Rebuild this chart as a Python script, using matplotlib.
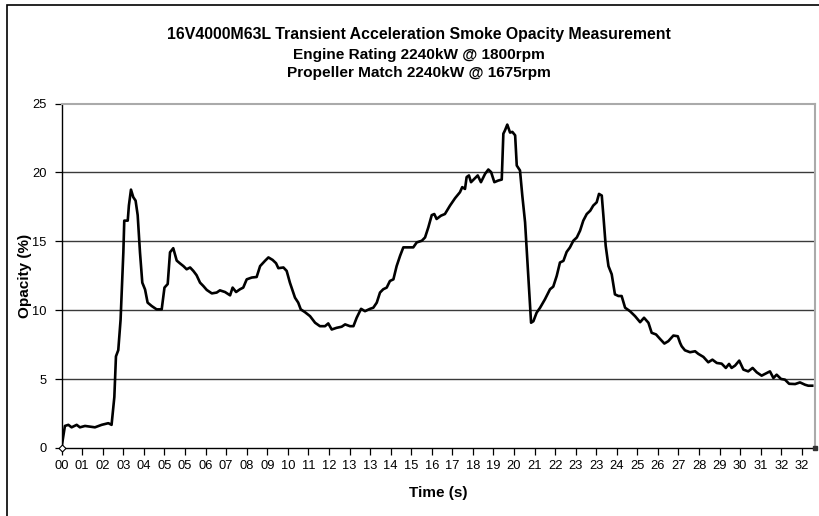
import matplotlib
matplotlib.use("Agg")
import matplotlib.pyplot as plt
from matplotlib.patches import Rectangle

plt.rcParams['font.family'] = ['Liberation Sans', 'DejaVu Sans']

title_lines = ["16V4000M63L Transient Acceleration Smoke Opacity Measurement",
               "Engine Rating 2240kW @ 1800rpm",
               "Propeller Match 2240kW @ 1675rpm"]
x_label = "Time (s)"
y_label = "Opacity (%)"

time_s = [0.00, 0.14, 0.29, 0.43, 0.65, 0.79, 1.01, 1.44, 1.73, 2.02, 2.16, 2.28, 2.35, 2.45,
          2.55, 2.67, 2.71, 2.86, 2.91, 3.00, 3.10, 3.20, 3.29, 3.39, 3.49, 3.61, 3.72, 3.90,
          4.11, 4.33, 4.45, 4.59, 4.69, 4.83, 4.98, 5.12, 5.27, 5.41, 5.56, 5.70, 5.84, 5.99,
          6.13, 6.28, 6.50, 6.71, 6.85, 7.07, 7.29, 7.40, 7.55, 7.72, 7.86, 8.01, 8.23, 8.44,
          8.59, 8.80, 8.95, 9.13, 9.28, 9.38, 9.60, 9.74, 9.88, 10.10, 10.24, 10.35, 10.53,
          10.75, 10.97, 11.18, 11.40, 11.54, 11.69, 11.90, 12.12, 12.27, 12.48, 12.63, 12.77,
          12.96, 13.13, 13.35, 13.49, 13.64, 13.78, 13.92, 14.07, 14.21, 14.36, 14.50, 14.65,
          14.79, 15.00, 15.22, 15.37, 15.59, 15.73, 15.87, 16.02, 16.13, 16.23, 16.42, 16.59,
          16.81, 17.03, 17.24, 17.34, 17.46, 17.53, 17.63, 17.72, 17.86, 18.01, 18.15, 18.33,
          18.47, 18.59, 18.73, 18.90, 19.05, 19.12, 19.19, 19.29, 19.41, 19.51, 19.63, 19.70,
          19.84, 19.94, 20.06, 20.20, 20.32, 20.42, 20.56, 20.71, 20.92, 21.14, 21.28, 21.43,
          21.57, 21.72, 21.86, 22.00, 22.15, 22.30, 22.44, 22.58, 22.73, 22.88, 23.01, 23.16,
          23.26, 23.38, 23.45, 23.55, 23.67, 23.81, 23.95, 24.10, 24.24, 24.39, 24.60, 24.82,
          25.04, 25.21, 25.40, 25.54, 25.73, 25.90, 26.09, 26.26, 26.48, 26.67, 26.77, 26.84,
          26.98, 27.20, 27.42, 27.56, 27.78, 27.99, 28.17, 28.36, 28.57, 28.75, 28.89, 29.00,
          29.15, 29.33, 29.51, 29.72, 29.91, 30.09, 30.30, 30.52, 30.66, 30.81, 30.95, 31.14,
          31.31, 31.49, 31.75, 31.96, 32.18, 32.32, 32.49]

opacity = [0.1, 1.6, 1.68, 1.5, 1.68, 1.5, 1.6, 1.5, 1.68, 1.8, 1.68, 3.7, 6.65, 7.1,
           9.3, 14.2, 16.5, 16.5, 17.6, 18.75, 18.2, 17.95, 16.9, 14.2, 12.0, 11.5, 10.55, 10.3,
           10.06, 10.06, 11.64, 11.9, 14.2, 14.5, 13.6, 13.4, 13.2, 12.97, 13.1, 12.85, 12.54, 12.0,
           11.76, 11.47, 11.22, 11.28, 11.44, 11.32, 11.08, 11.64, 11.32, 11.52, 11.64, 12.24, 12.37, 12.41,
           13.2, 13.58, 13.83, 13.65, 13.41, 13.05, 13.1, 12.85, 12.0, 10.91, 10.55, 10.06, 9.86,
           9.57, 9.09, 8.84, 8.84, 9.04, 8.6, 8.72, 8.8, 8.97, 8.84, 8.84, 9.45,
           10.1, 9.93, 10.1, 10.18, 10.55, 11.28, 11.52, 11.64, 12.12, 12.24, 13.2, 13.95,
           14.56, 14.56, 14.56, 14.92, 15.04, 15.28, 16.0, 16.9, 16.98, 16.62, 16.86, 16.98,
           17.59, 18.13, 18.56, 18.93, 18.8, 19.66, 19.78, 19.29, 19.53, 19.78, 19.29, 19.9,
           20.21, 20.02, 19.29, 19.41, 19.48, 22.81, 23.05, 23.47, 22.89, 22.94, 22.69, 20.5,
           20.14, 18.32, 16.38, 12.49, 9.09, 9.2, 9.82, 10.18, 10.79, 11.52, 11.71, 12.49,
           13.46, 13.58, 14.23, 14.55, 15.04, 15.28, 15.77, 16.5, 16.98, 17.22, 17.59, 17.83,
           18.44, 18.32, 16.86, 14.67, 13.2, 12.61, 11.15, 11.03, 11.03, 10.18, 9.93, 9.57,
           9.13, 9.45, 9.09, 8.36, 8.24, 7.92, 7.58, 7.75, 8.16, 8.11, 7.63, 7.38,
           7.09, 6.95, 7.02, 6.83, 6.61, 6.22, 6.41, 6.17, 6.12, 5.81, 6.1, 5.81,
           5.98, 6.34, 5.69, 5.56, 5.81, 5.49, 5.25, 5.44, 5.56, 5.08, 5.32, 5.01,
           4.96, 4.66, 4.64, 4.76, 4.59, 4.52, 4.52]

tick_labels = ["00", "01", "02", "03", "04", "05", "05", "06", "07", "08", "09", "10", "11",
               "12", "13", "13", "14", "15", "16", "17", "18", "19", "20", "21", "22", "23",
               "23", "24", "25", "26", "27", "28", "29", "30", "31", "32", "32"]
tick_step_s = 0.89
x_end_s = 32.61
y_ticks = [0, 5, 10, 15, 20, 25]

end_marker_t = [0.0, x_end_s]
end_marker_v = [0, 0]

fig = plt.figure(figsize=(8.19, 5.16), dpi=100)
ax = fig.add_axes([0.0753, 0.1318, 0.9198, 0.6676])

# outer chart frame (cut at right/bottom edge as in the reference)
fig.patches.append(Rectangle((7 / 819, -0.05), 1.2, 1 - 5 / 516 + 0.05,
                             transform=fig.transFigure, fill=False,
                             edgecolor='black', linewidth=1.2))

for yv in y_ticks[1:-1]:
    ax.axhline(yv, color='#3a3a3a', linewidth=1.0, zorder=1)

ax.plot(time_s, opacity, color='black', linewidth=1.9, zorder=3, solid_joinstyle='round')
ax.plot(end_marker_t[:1], end_marker_v[:1], marker='D', markersize=3.5,
        markerfacecolor='white', markeredgecolor='black', markeredgewidth=0.8,
        linestyle='none', zorder=4, clip_on=False)
ax.plot(end_marker_t[1:], end_marker_v[1:], marker='s', markersize=3.5,
        color='#333333', linestyle='none', zorder=4, clip_on=False)

ax.set_xlim(0, x_end_s)
ax.set_ylim(0, 25)
ax.set_xticks([k * tick_step_s for k in range(len(tick_labels))])
ax.set_xticklabels(tick_labels, fontsize=9.3)
ax.set_yticks(y_ticks)
ax.set_yticklabels([str(v) for v in y_ticks], fontsize=9.3)
ax.tick_params(axis='both', direction='out', length=5, width=0.9, color='black')
ax.tick_params(axis='y', pad=6)
ax.tick_params(axis='x', pad=4)

for side in ['top', 'right']:
    ax.spines[side].set_color('#aaaaaa')
    ax.spines[side].set_linewidth(1.5)
for side in ['left', 'bottom']:
    ax.spines[side].set_color('black')
    ax.spines[side].set_linewidth(1.0)

ax.set_xlabel(x_label, fontsize=11, fontweight='bold', labelpad=10)
ax.set_ylabel(y_label, fontsize=11, fontweight='bold', labelpad=0)

fig.text(0.511, 1 - 34 / 516, title_lines[0], ha='center', va='center',
         fontsize=11.4, fontweight='bold')
fig.text(0.511, 1 - 55 / 516, title_lines[1], ha='center', va='center',
         fontsize=11.1, fontweight='bold')
fig.text(0.511, 1 - 73 / 516, title_lines[2], ha='center', va='center',
         fontsize=11.1, fontweight='bold')

fig.savefig("out.png", dpi=100)
